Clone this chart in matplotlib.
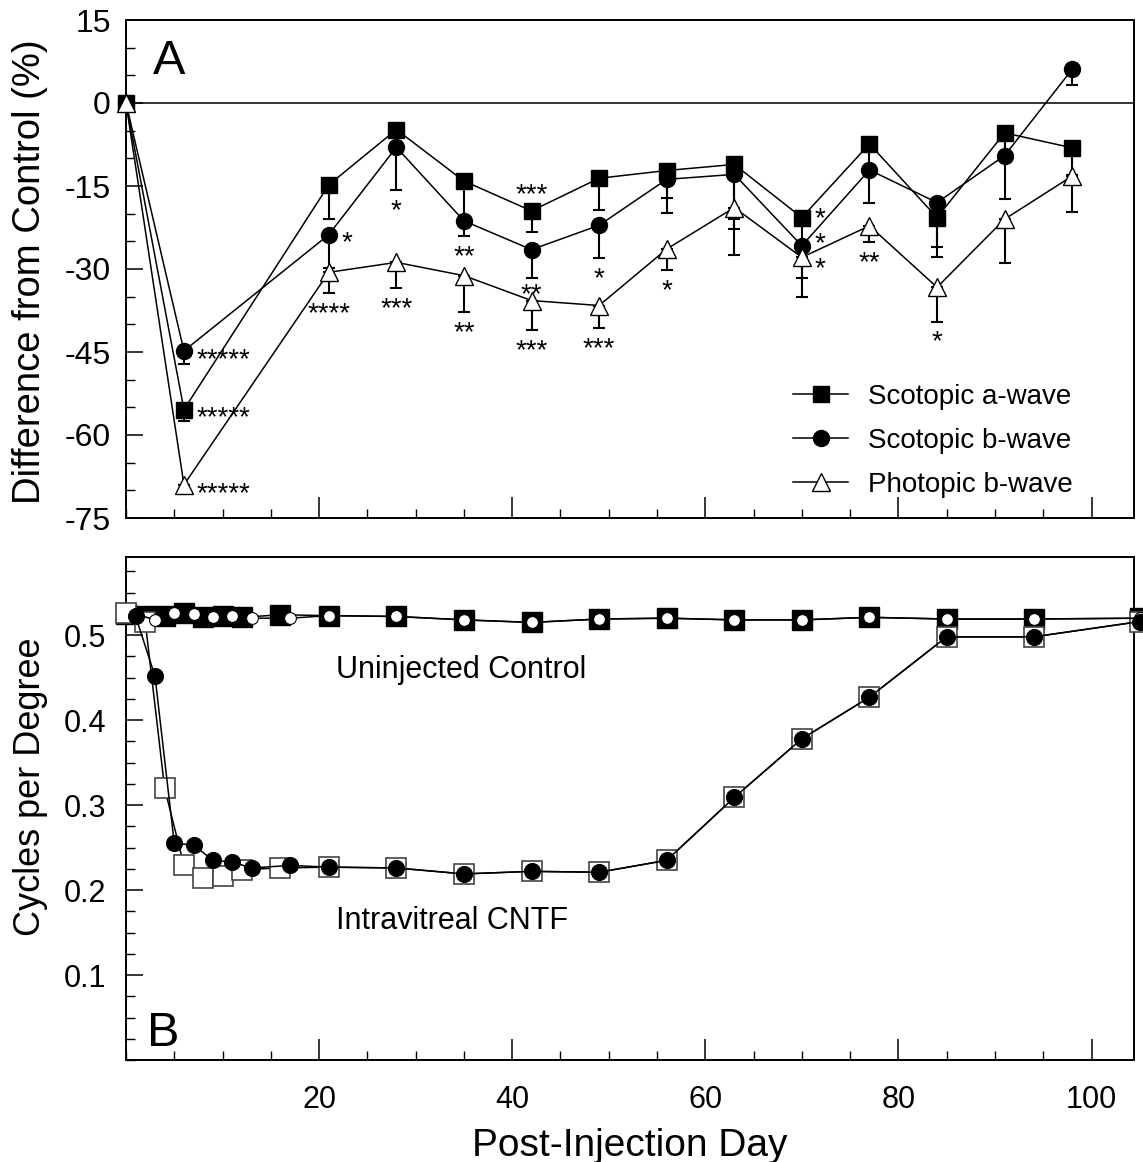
import numpy as np
import matplotlib
matplotlib.use("Agg")
import matplotlib.pyplot as plt
from matplotlib.ticker import MultipleLocator, FixedLocator, FormatStrFormatter
from matplotlib.lines import Line2D

plt.rcParams['font.family'] = ['Liberation Sans', 'DejaVu Sans']
plt.rcParams['axes.unicode_minus'] = False

# ---- panel A: ERG amplitude, % difference from control ----
erg_days = [0, 6, 21, 28, 35, 42, 49, 56, 63, 70, 77, 84, 91, 98]
scot_a = [0, -55.4, -14.8, -4.8, -14.1, -19.5, -13.6, -12.2, -11.1, -20.7, -7.4, -20.7, -5.4, -8.1]
scot_a_err = [0, 2.1, 6.1, 3.0, 7.0, 3.9, 5.8, 4.9, 11.7, 5.0, 4.6, 7.1, 4.0, 5.0]
scot_b = [0, -44.8, -23.8, -8.0, -21.3, -26.5, -22.1, -13.8, -12.9, -25.8, -12.1, -18.0, -9.5, 6.1]
scot_b_err = [0, 2.3, 6.0, 7.7, 2.7, 5.2, 6.0, 6.1, 14.6, 5.9, 6.0, 8.0, 7.8, 2.8]
phot_b = [0, -69.0, -30.6, -28.8, -31.2, -35.7, -36.6, -26.4, -18.9, -27.9, -22.2, -33.3, -21.0, -13.2]
phot_b_err = [0, 1.3, 3.7, 4.6, 6.6, 5.3, 4.1, 3.8, 2.0, 7.1, 3.0, 6.2, 7.9, 6.5]

# significance marks: (series, day, marks, placement, extra vertical nudge in px)
stars = [
    ('b', 6, '*****', 'right', 0), ('a', 6, '*****', 'right', 0), ('p', 6, '*****', 'right', 0),
    ('b', 21, '*', 'right', 0), ('p', 21, '****', 'below', 0),
    ('b', 28, '*', 'below', 0), ('p', 28, '***', 'below', 0),
    ('b', 35, '**', 'below', 0), ('p', 35, '**', 'below', 0),
    ('a', 42, '***', 'above', 0), ('b', 42, '**', 'below', 4), ('p', 42, '***', 'below', 0),
    ('b', 49, '*', 'below', 0), ('p', 49, '***', 'below', 0),
    ('p', 56, '*', 'below', 0),
    ('p', 70, '*\n*\n*', 'right', -3),
    ('p', 77, '**', 'below', 0),
    ('p', 84, '*', 'below', 0),
]

# ---- panel B: visual acuity (cycles/degree) ----
sq_days = [0, 2, 4, 6, 8, 10, 12, 16, 21, 28, 35, 42, 49, 56, 63, 70, 77, 85, 94, 105]
ci_days = [1, 3, 5, 7, 9, 11, 13, 17, 21, 28, 35, 42, 49, 56, 63, 70, 77, 85, 94, 105]
ctrl_sq = [0.525, 0.523, 0.523, 0.526, 0.521, 0.522, 0.521, 0.524, 0.523, 0.522, 0.518,
           0.515, 0.519, 0.520, 0.518, 0.518, 0.521, 0.519, 0.519, 0.520]
ctrl_ci = [0.525, 0.518, 0.526, 0.525, 0.521, 0.522, 0.520, 0.520, 0.523, 0.522, 0.518,
           0.515, 0.519, 0.520, 0.518, 0.518, 0.521, 0.519, 0.519, 0.520]
cntf_sq = [0.526, 0.515, 0.320, 0.229, 0.214, 0.216, 0.224, 0.226, 0.227, 0.226, 0.219,
           0.222, 0.221, 0.235, 0.309, 0.378, 0.427, 0.498, 0.498, 0.516]
cntf_ci = [0.522, 0.452, 0.255, 0.253, 0.235, 0.233, 0.226, 0.229, 0.227, 0.226, 0.219,
           0.222, 0.221, 0.235, 0.309, 0.378, 0.427, 0.498, 0.498, 0.516]

fig = plt.figure(figsize=(11.43, 11.62), dpi=100)
W, H = 1143.0, 1162.0
axA = fig.add_axes([126 / W, 1 - 518 / H, 1008 / W, 498 / H])
axB = fig.add_axes([126 / W, 1 - 1060 / H, 1008 / W, 503 / H])

lw = 1.1
series = {
    'a': dict(y=scot_a, err=scot_a_err, marker='s', ms=11.5, mfc='black', label='Scotopic a-wave', z=3),
    'b': dict(y=scot_b, err=scot_b_err, marker='o', ms=11.5, mfc='black', label='Scotopic b-wave', z=4),
    'p': dict(y=phot_b, err=phot_b_err, marker='^', ms=12.5, mfc='white', label='Photopic b-wave', z=5),
}

axA.axhline(0, color='black', lw=1.1, zorder=1)
for key, s in series.items():
    axA.errorbar(erg_days, s['y'], yerr=[s['err'], np.zeros(len(s['err']))], fmt='none',
                 ecolor='black', elinewidth=1.5, capsize=4.5, capthick=1.5, zorder=2, clip_on=False)
    axA.plot(erg_days, s['y'], color='black', lw=lw, marker=s['marker'], ms=s['ms'],
             mfc=s['mfc'], mec='black', mew=1.0, zorder=s['z'], clip_on=False)

star_fs = 20
base_off = 11.5  # star glyph centre above baseline, pt
px = 0.72
for key, day, mark, where, nudge in stars:
    s = series[key]
    i = erg_days.index(day)
    y = s['y'][i]
    if where == 'right':
        axA.annotate(mark, (day, y), xytext=(9, -base_off + nudge * px), textcoords='offset points',
                     ha='left', va='baseline', fontsize=star_fs, linespacing=0.95)
    elif where == 'below':
        cap = y - s['err'][i]
        axA.annotate(mark, (day, cap), xytext=(0, -12 * px - base_off + nudge * px),
                     textcoords='offset points', ha='center', va='baseline', fontsize=star_fs)
    else:
        axA.annotate(mark, (day, y), xytext=(0, 25 * px - base_off + nudge * px),
                     textcoords='offset points', ha='center', va='baseline', fontsize=star_fs)

handles = [Line2D([], [], color='black', lw=lw, marker=s['marker'], ms=s['ms'], mfc=s['mfc'],
                  mec='black', mew=1.0) for s in series.values()]
axA.legend(handles, [s['label'] for s in series.values()], loc='center left',
           bbox_to_anchor=(0.662, 0.155), frameon=False, fontsize=20, handlelength=1.98,
           handletextpad=0.72, labelspacing=0.65, borderpad=0, borderaxespad=0)

axA.set_ylim(-75, 15)
axA.yaxis.set_major_locator(MultipleLocator(15))
axA.yaxis.set_minor_locator(MultipleLocator(5))
axA.set_ylabel('Difference from Control (%)', fontsize=27.5)
axA.text(0.027, 0.892, 'A', transform=axA.transAxes, fontsize=35, ha='left', va='baseline')

# panel B
axB.plot(sq_days, ctrl_sq, color='black', lw=lw, marker='s', ms=14, mfc='black', mec='black',
         mew=1.0, zorder=2, clip_on=False)
axB.plot(sq_days, cntf_sq, color='black', lw=lw, marker='s', ms=14, mfc='white', mec='#444444',
         mew=1.2, zorder=3, clip_on=False)
axB.plot(ci_days, ctrl_ci, color='black', lw=lw, marker='o', ms=8.5, mfc='white', mec='black',
         mew=0.8, zorder=4, clip_on=False)
axB.plot(ci_days, cntf_ci, color='black', lw=lw, marker='o', ms=11.5, mfc='black', mec='black',
         mew=0.8, zorder=5, clip_on=False)

axB.text(21.7, 0.4498, 'Uninjected Control', fontsize=22, ha='left', va='baseline')
axB.text(21.7, 0.1538, 'Intravitreal CNTF', fontsize=22, ha='left', va='baseline')
axB.text(0.021, 0.028, 'B', transform=axB.transAxes, fontsize=35, ha='left', va='baseline')

axB.set_ylim(0, 0.592)
axB.yaxis.set_major_locator(FixedLocator([0.1, 0.2, 0.3, 0.4, 0.5]))
axB.yaxis.set_minor_locator(MultipleLocator(0.025))
axB.yaxis.set_major_formatter(FormatStrFormatter('%.1f'))
axB.set_ylabel('Cycles per Degree', fontsize=26)
axB.set_xlabel('Post-Injection Day', fontsize=28, labelpad=9)

for ax in (axA, axB):
    ax.set_xlim(0, 104.4)
    ax.xaxis.set_major_locator(FixedLocator([20, 40, 60, 80, 100]))
    ax.xaxis.set_minor_locator(MultipleLocator(5))
    for sp in ax.spines.values():
        sp.set_linewidth(1.4)
    ax.tick_params(axis='x', which='major', direction='in', length=15, width=1.1, top=False, pad=18,
                   labelsize=22)
    ax.tick_params(axis='x', which='minor', direction='in', length=6.5, width=1.0, top=False)
    ax.tick_params(axis='y', which='major', direction='in', length=12, width=1.1, right=False, pad=11,
                   labelsize=23)
    ax.tick_params(axis='y', which='minor', direction='in', length=6.5, width=1.0, right=False)

axA.tick_params(axis='x', labelbottom=False)
axB.tick_params(axis='y', which='major', pad=14, labelsize=22)

axA.yaxis.set_label_coords(-0.095, 0.494)
axB.yaxis.set_label_coords(-0.095, 0.543)
axA.yaxis.label.set_va('center')
axB.yaxis.label.set_va('center')

fig.savefig('out.png', dpi=100)
